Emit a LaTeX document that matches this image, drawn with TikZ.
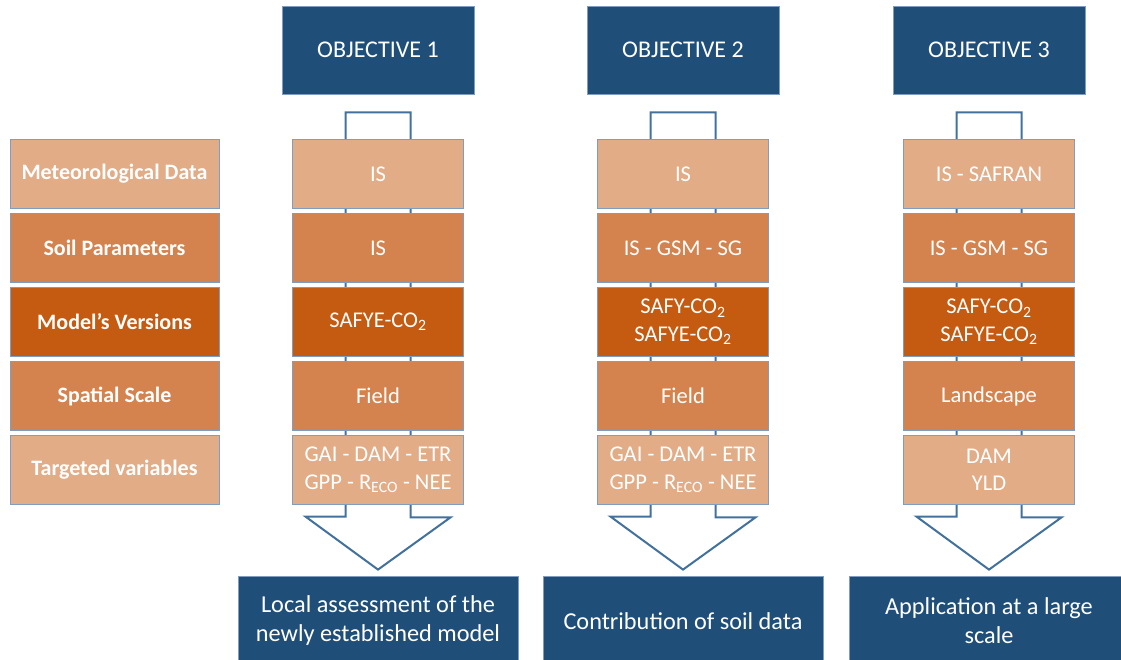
\documentclass[tikz,border=0pt]{standalone}
\usepackage{fontspec}
\setmainfont{Carlito}
\usetikzlibrary{backgrounds}
\definecolor{objblue}{HTML}{1F4E79}
\definecolor{row1}{HTML}{E2AC87}
\definecolor{row2}{HTML}{D4834E}
\definecolor{row3}{HTML}{C55A11}
\definecolor{row4}{HTML}{D4834E}
\definecolor{row5}{HTML}{E2AC87}
\definecolor{edgeblue}{HTML}{7F9DC1}
\definecolor{arrowblue}{HTML}{41719C}
\begin{document}
\begin{tikzpicture}[x=1pt,y=-1pt,
    every node/.style={draw=edgeblue,line width=0.8pt,text=white,inner sep=0pt,align=center},
    obj/.style={fill=objblue,minimum width=192pt,minimum height=88pt,font=\fontsize{24}{28}\selectfont},
    res/.style={fill=objblue,minimum width=280pt,minimum height=90pt,font=\fontsize{24.3}{29}\selectfont},
    lab/.style={minimum width=209pt,minimum height=69pt,font=\fontsize{22}{26}\selectfont\bfseries},
    cell/.style={minimum width=171pt,minimum height=69pt,font=\fontsize{22.5}{27.5}\selectfont}]
  \useasboundingbox (0,0) rectangle (1121,660);
  % row labels
  \foreach \r/\t in {1/Meteorological Data,2/Soil Parameters,3/Model’s Versions,4/Spatial Scale,5/Targeted variables}
    \node[lab,fill=row\r] (lab\r) at (114.5,{174+74*(\r-1)}) {\t};
  % objectives and results
  \foreach \k/\x in {1/378,2/683,3/989}
    \node[obj] (obj\k) at (\x,50) {OBJECTIVE \k};
  \node[res] (res1) at (378,621) {Local assessment of the\\newly established model};
  \node[res] (res2) at (683,621) {Contribution of soil data};
  \node[res] (res3) at (989,621) {Application at a large\\scale};
  % cells
  \foreach \r/\t in {1/IS,2/IS,3/SAFYE-CO\textsubscript{2},4/Field,5/{GAI - DAM - ETR\\GPP - R\textsubscript{ECO} - NEE}}
    \node[cell,fill=row\r] (a\r) at (378,{174+74*(\r-1)}) {\t};
  \foreach \r/\t in {1/IS,2/IS - GSM - SG,3/{SAFY-CO\textsubscript{2}\\SAFYE-CO\textsubscript{2}},4/Field,5/{GAI - DAM - ETR\\GPP - R\textsubscript{ECO} - NEE}}
    \node[cell,fill=row\r] (b\r) at (683,{174+74*(\r-1)}) {\t};
  \foreach \r/\t in {1/IS - SAFRAN,2/IS - GSM - SG,3/{SAFY-CO\textsubscript{2}\\SAFYE-CO\textsubscript{2}},4/Landscape,5/{DAM\\YLD}}
    \node[cell,fill=row\r] (c\r) at (989,{174+74*(\r-1)}) {\t};
  % block arrows behind the columns
  \begin{scope}[on background layer]
    \foreach \k in {1,2,3}
      \draw[arrowblue,line width=2pt,fill=white] ([xshift=-32.5pt,yshift=-18pt]obj\k.south)
        -- ++(65,0) -- ++(0,405) -- ++(40,0) -- ([yshift=6pt]res\k.north)
        -- ++(-72.5,-53) -- ++(40,0) -- cycle;
  \end{scope}
\end{tikzpicture}
\end{document}
